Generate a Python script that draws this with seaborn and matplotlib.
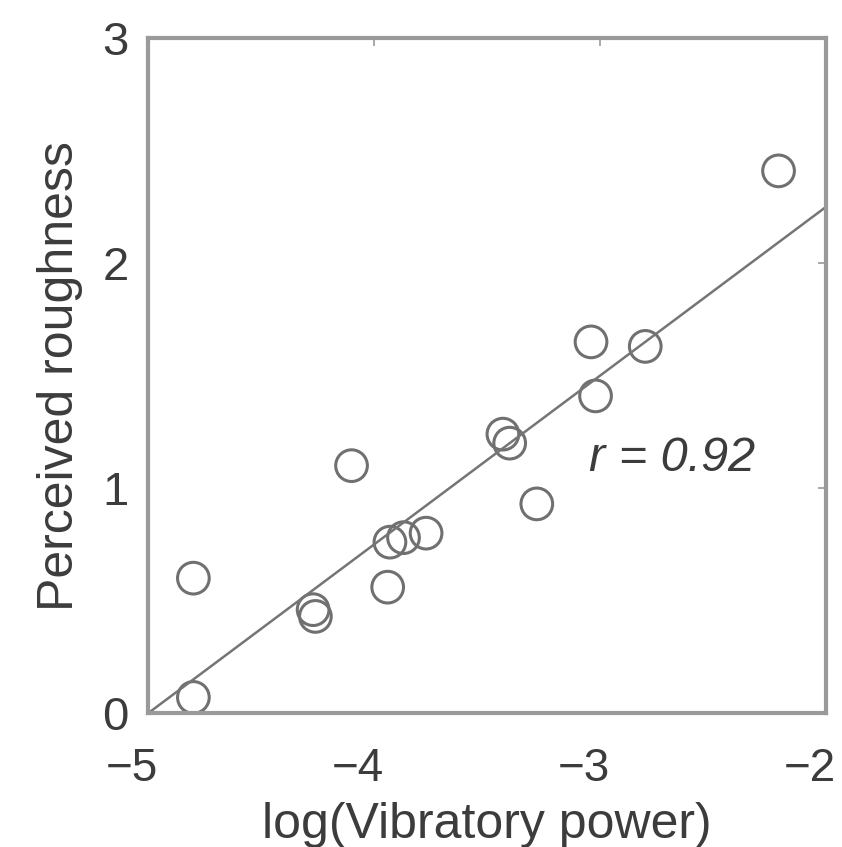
import numpy as np
import pandas as pd
import matplotlib
matplotlib.use("Agg")
import matplotlib.pyplot as plt
import matplotlib.transforms as mtransforms
import seaborn as sns

# datos
log_power = [-4.80, -4.80, -4.27, -4.26, -4.10, -3.94, -3.93, -3.87, -3.77,
             -3.43, -3.40, -3.28, -3.04, -3.02, -2.80, -2.21]
roughness = [0.60, 0.07, 0.46, 0.43, 1.10, 0.56, 0.76, 0.78, 0.80,
             1.24, 1.20, 0.93, 1.65, 1.41, 1.63, 2.41]
fit_x = [-5.0, -2.0]
fit_y = [0.0, 2.25]
x_ticks = [-5, -4, -3, -2]
y_ticks = [0, 1, 2, 3]
r_text = "r = 0.92"

df = pd.DataFrame({"x": log_power, "y": roughness})
fit = pd.DataFrame({"x": fit_x, "y": fit_y})

sns.set_style("white")
plt.rcParams["font.family"] = ["Liberation Sans", "DejaVu Sans"]
txt_color = "#3c3c3c"

fig = plt.figure(figsize=(8.42, 8.47), dpi=100)
ax = fig.add_axes([0.176, 0.158, 0.805, 0.797])

sns.lineplot(x="x", y="y", data=fit, color="#757575", linewidth=1.8, ax=ax)
sns.scatterplot(x="x", y="y", data=df, s=520, marker="o",
                facecolor="none", edgecolor="#707070", linewidth=2.2, ax=ax)

ax.text(-3.05, 1.13, r_text, style="italic", fontsize=35, color=txt_color,
        va="center", ha="left")

ax.set_xlim(-5, -2)
ax.set_ylim(0, 3)
ax.set_xticks(x_ticks)
ax.set_yticks(y_ticks)
ax.set_xticklabels(["\u2212%d" % abs(v) for v in x_ticks])
ax.tick_params(direction="in", length=6, width=1.2, color="#999999",
               labelsize=34, labelcolor=txt_color, top=True, right=True)
ax.tick_params(axis="x", pad=24, labelsize=33)
ax.tick_params(axis="y", pad=14)
# el digito queda centrado en la marca, el signo menos sobresale
shift = mtransforms.ScaledTranslation(-16 / 100, 0, fig.dpi_scale_trans)
for lab in ax.get_xticklabels():
    lab.set_transform(lab.get_transform() + shift)

ax.set_xlabel("log(Vibratory power)", fontsize=36, color=txt_color, labelpad=8)
ax.set_ylabel("Perceived roughness", fontsize=36, color=txt_color, labelpad=14)
for sp in ax.spines.values():
    sp.set_color("#9a9a9a")
    sp.set_linewidth(3)

fig.savefig("out.png", dpi=100, facecolor="white")
